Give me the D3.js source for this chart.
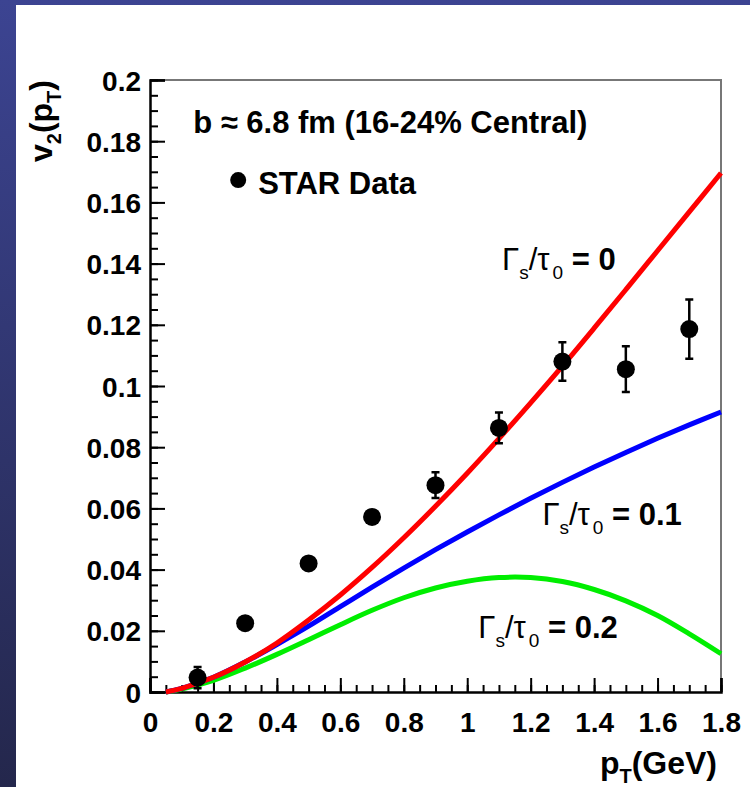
<html lang="en">
<head>
  <script src="https://d3js.org/d3.v7.min.js"></script>
  <style>
    body { margin: 0; background: #2b2f5e; }
    svg text { font-family: "Liberation Sans", Arial, sans-serif; font-weight: bold; fill: #000; }
  </style>
</head>
<body>
  <svg id="chart" width="750" height="787"></svg>
  <script>
    // model curves (hydro + hadronic, different Gamma_s/tau_0)
    const ptModel   = [0.05, 0.1, 0.2, 0.3, 0.4, 0.5, 0.6, 0.7, 0.8, 0.9, 1.0, 1.1, 1.2, 1.3, 1.4, 1.5, 1.6, 1.7, 1.8];
    const v2Gamma0  = [0, 0.0012, 0.0048, 0.0098, 0.016, 0.0235, 0.0317, 0.0407, 0.0504, 0.0607, 0.0715, 0.0828, 0.0945, 0.1065, 0.1189, 0.1315, 0.1442, 0.1569, 0.1696];
    const v2Gamma01 = [0, 0.0012, 0.0048, 0.0098, 0.0155, 0.0215, 0.0279, 0.0343, 0.0405, 0.0465, 0.0523, 0.0579, 0.0633, 0.0685, 0.0735, 0.0783, 0.0829, 0.0873, 0.0915];
    const v2Gamma02 = [0, 0.001, 0.0038, 0.0078, 0.0123, 0.0171, 0.022, 0.0267, 0.0308, 0.034, 0.0362, 0.0374, 0.0374, 0.0361, 0.0335, 0.0298, 0.025, 0.019, 0.0125];

    // STAR data points
    const starPt  = [0.15, 0.3, 0.5, 0.7, 0.9, 1.1, 1.3, 1.5, 1.7];
    const starV2  = [0.0047, 0.0225, 0.042, 0.0572, 0.0676, 0.0863, 0.108, 0.1055, 0.1186];
    const starErr = [0.0035, 0.001, 0.0012, 0.0015, 0.0042, 0.005, 0.0063, 0.0075, 0.0097];

    const xTicks = [0, 0.2, 0.4, 0.6, 0.8, 1, 1.2, 1.4, 1.6, 1.8];
    const yTicks = [0, 0.02, 0.04, 0.06, 0.08, 0.1, 0.12, 0.14, 0.16, 0.18, 0.2];

    const svg = d3.select("#chart");

    // slide background + white panel
    const defs = svg.append("defs");
    const grad = defs.append("linearGradient").attr("id", "bg").attr("x1", 0).attr("y1", 0).attr("x2", 0).attr("y2", 1);
    grad.append("stop").attr("offset", "0%").attr("stop-color", "#3c4492");
    grad.append("stop").attr("offset", "100%").attr("stop-color", "#24274c");
    svg.append("rect").attr("width", 750).attr("height", 787).attr("fill", "url(#bg)");
    svg.append("rect").attr("x", 16).attr("y", 5).attr("width", 734).attr("height", 782).attr("fill", "white");

    const x = d3.scaleLinear().domain([0, 1.8]).range([150, 721]);
    const y = d3.scaleLinear().domain([0, 0.2]).range([692, 80]);

    // frame top/right
    svg.append("path")
      .attr("d", `M${x(0)},${y(0.2)}H${x(1.8)}V${y(0)}`)
      .attr("fill", "none").attr("stroke", "#777").attr("stroke-width", 2);

    // minor ticks
    svg.append("g").attr("transform", `translate(0,${y(0)})`)
      .call(d3.axisBottom(x).tickValues(d3.range(0, 1.8001, 0.05)).tickSize(-7).tickFormat(""))
      .call(g => g.select(".domain").remove())
      .selectAll("line").attr("stroke", "#000").attr("stroke-width", 2);
    svg.append("g").attr("transform", `translate(${x(0)},0)`)
      .call(d3.axisLeft(y).tickValues(d3.range(0, 0.2001, 0.005)).tickSize(-8).tickFormat(""))
      .call(g => g.select(".domain").remove())
      .selectAll("line").attr("stroke", "#000").attr("stroke-width", 2);

    // major ticks + labels
    const xAxis = svg.append("g").attr("transform", `translate(0,${y(0)})`)
      .call(d3.axisBottom(x).tickValues(xTicks).tickSize(-14).tickPadding(20).tickFormat(d3.format("")));
    const yAxis = svg.append("g").attr("transform", `translate(${x(0)},0)`)
      .call(d3.axisLeft(y).tickValues(yTicks).tickSize(-15).tickPadding(9).tickFormat(d3.format("")));
    [xAxis, yAxis].forEach(a => {
      a.select(".domain").attr("stroke", "#000").attr("stroke-width", 2.5);
      a.selectAll("line").attr("stroke", "#000").attr("stroke-width", 2);
      a.selectAll("text").style("font-size", "28px").style("font-family", "Liberation Sans, Arial, sans-serif").style("font-weight", "bold").attr("fill", "#000");
    });
    yAxis.selectAll("text").attr("dy", "0.36em");

    // curves
    const line = d3.line().x(d => x(d[0])).y(d => y(d[1])).curve(d3.curveCatmullRom.alpha(0.5));
    const curves = [
      { v: v2Gamma02, color: "#00ee00" },
      { v: v2Gamma01, color: "#0000ff" },
      { v: v2Gamma0,  color: "#ff0000" }
    ];
    curves.forEach(c => {
      svg.append("path")
        .datum(ptModel.map((p, i) => [p, c.v[i]]))
        .attr("d", line)
        .attr("fill", "none").attr("stroke", c.color).attr("stroke-width", 5);
    });

    // STAR points with error bars
    const pts = starPt.map((p, i) => ({ p: p, v: starV2[i], e: starErr[i] }));
    const pg = svg.append("g");
    pg.selectAll(".err").data(pts).enter().append("path")
      .attr("d", d => `M${x(d.p)},${y(d.v - d.e)}V${y(d.v + d.e)}M${x(d.p) - 4},${y(d.v - d.e)}h8M${x(d.p) - 4},${y(d.v + d.e)}h8`)
      .attr("stroke", "#000").attr("stroke-width", 2.5).attr("fill", "none");
    pg.selectAll("circle").data(pts).enter().append("circle")
      .attr("cx", d => x(d.p)).attr("cy", d => y(d.v)).attr("r", 9).attr("fill", "#000");

    // legend + title
    svg.append("text").attr("x", x(0.136)).attr("y", y(0.1827))
      .style("font-size", "31px").text("b \u2248 6.8 fm (16-24% Central)");
    svg.append("circle").attr("cx", x(0.278)).attr("cy", y(0.1673)).attr("r", 8).attr("fill", "#000");
    svg.append("text").attr("x", x(0.341)).attr("y", y(0.1627))
      .style("font-size", "31px").text("STAR Data");

    // curve labels
    const labels = [
      { px: 1.11,  py: 0.138,  val: "0" },
      { px: 1.237, py: 0.0546, val: "0.1" },
      { px: 1.035, py: 0.0176, val: "0.2" }
    ];
    labels.forEach(l => {
      const t = svg.append("text").attr("x", x(l.px)).attr("y", y(l.py)).style("font-size", "31px");
      t.append("tspan").style("font-weight", "normal").text("\u0393");
      t.append("tspan").attr("dy", 9).style("font-size", "19px").style("font-weight", "normal").text("s");
      t.append("tspan").attr("dy", -9).style("font-weight", "normal").text("/\u03c4");
      t.append("tspan").attr("dy", 9).attr("dx", 3).style("font-size", "19px").style("font-weight", "normal").text("0");
      t.append("tspan").attr("dy", -9).text(" = " + l.val);
    });

    // axis titles
    const xt = svg.append("text").attr("x", 717).attr("y", 774).attr("text-anchor", "end").style("font-size", "32px");
    xt.append("tspan").text("p");
    xt.append("tspan").attr("dy", 9).style("font-size", "20px").text("T");
    xt.append("tspan").attr("dy", -9).text("(GeV)");

    const yt = svg.append("text").attr("transform", "translate(52,80) rotate(-90)").attr("text-anchor", "end").style("font-size", "32px");
    yt.append("tspan").text("v");
    yt.append("tspan").attr("dy", 9).style("font-size", "20px").text("2");
    yt.append("tspan").attr("dy", -9).text("(p");
    yt.append("tspan").attr("dy", 9).style("font-size", "20px").text("T");
    yt.append("tspan").attr("dy", -9).text(")");
  </script>
</body>
</html>
